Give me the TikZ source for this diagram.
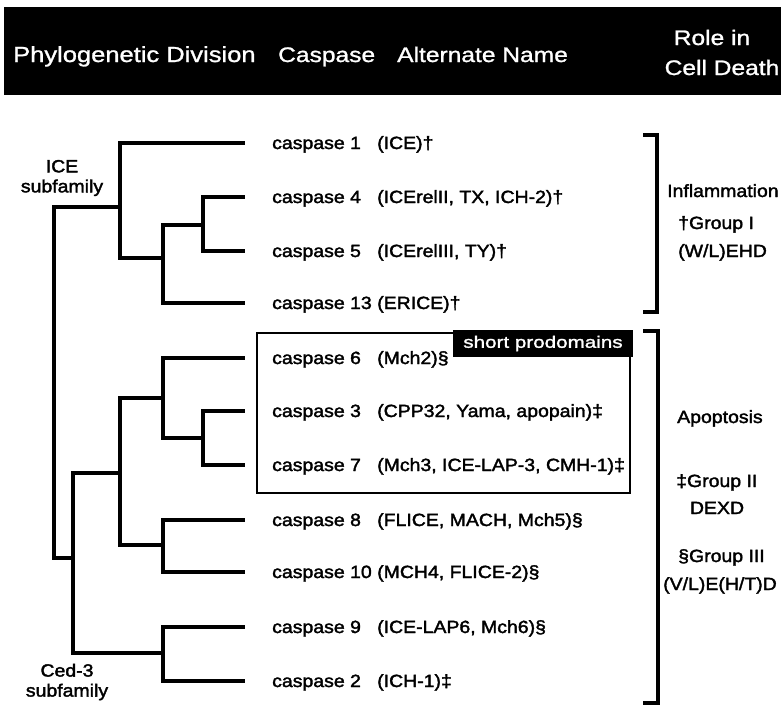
\documentclass[tikz,border=0pt]{standalone}
\usepackage{fontspec}
\setmainfont{Liberation Sans}[FakeStretch=1.1,FakeBold=2]
\newfontfamily\hdrfont{Liberation Sans}[FakeStretch=1.17,FakeBold=1.2]
\newfontfamily\spfont{Liberation Sans}[FakeStretch=1.25,FakeBold=1.5]
\newcommand{\bodysize}{\fontsize{17.7}{20}\selectfont}
\begin{document}
\begin{tikzpicture}[x=1pt,y=-1pt,
  branch/.style={line width=4pt,line join=miter,line cap=rect},
  leafname/.style={anchor=base west,inner sep=0pt,font=\bodysize},
  altname/.style={anchor=base west,inner sep=0pt,font=\bodysize},
  rolelabel/.style={anchor=base west,inner sep=0pt,font=\bodysize},
  hdr/.style={anchor=base west,inner sep=0pt,text=white,font=\hdrfont\fontsize{21}{24}\selectfont},
  famlabel/.style={align=center,inner sep=0pt,font=\bodysize},
  brack/.style={line width=4.5pt,line join=miter}]
\useasboundingbox (0,0) rectangle (781,704);
% header band
\fill[black] (4,7) rectangle (781,95);
\node[hdr,font=\hdrfont\fontsize{21.8}{24}\selectfont] (h1) at (13,62) {Phylogenetic Division};
\node[hdr] (h2) at (278,62) {Caspase};
\node[hdr] (h3) at (397,62) {Alternate Name};
\node[hdr,anchor=base] (h4) at (712,45) {Role in};
\node[hdr,anchor=base] (h5) at (722,75) {Cell Death};
% leaf coordinates
\coordinate (L1) at (243,143);
\coordinate (L4) at (243,197);
\coordinate (L5) at (243,251);
\coordinate (L13) at (243,303);
\coordinate (L6) at (243,358);
\coordinate (L3) at (243,411);
\coordinate (L7) at (243,465);
\coordinate (L8) at (243,520);
\coordinate (L10) at (243,572);
\coordinate (L9) at (243,627);
\coordinate (L2) at (243,681);
% internal nodes
\coordinate (a45) at (203,225);
\coordinate (a4513) at (163,258);
\coordinate (aICE) at (120,207);
\coordinate (root) at (54,380);
\coordinate (aCed) at (73,558);
\coordinate (aA) at (120,473);
\coordinate (a637) at (163,398);
\coordinate (a37) at (203,438);
\coordinate (a810) at (163,545);
\coordinate (a92) at (163,653);
% tree
\draw[branch] (L4) -| (a45) |- (L5);
\draw[branch] (a45) -| (a4513) |- (L13);
\draw[branch] (L1) -| (aICE) |- (a4513);
\draw[branch] (aICE) -| (root) |- (aCed);
\draw[branch] (L3) -| (a37) |- (L7);
\draw[branch] (L6) -| (a637) |- (a37);
\draw[branch] (L8) -| (a810) |- (L10);
\draw[branch] (a637) -| (aA) |- (a810);
\draw[branch] (L9) -| (a92) |- (L2);
\draw[branch] (aA) -| (aCed) |- (a92);
% family labels
\node[famlabel] (ice) at (62,178) {ICE\\subfamily};
\node[famlabel] (ced) at (67,682) {Ced-3\\subfamily};
% short prodomains box
\draw[line width=2pt] (257,333) rectangle (630,493);
\node[fill=black,text=white,minimum width=180pt,minimum height=27pt,inner sep=0pt,font=\spfont\fontsize{16.5}{18}\selectfont] (sp) at (543,343.5) {short prodomains};
% leaf names
\node[leafname] (c1) at (272,149) {caspase 1};
\node[altname] (n1) at (377,149) {(ICE)†};
\node[leafname] (c4) at (272,203) {caspase 4};
\node[altname] (n4) at (377,203) {(ICErelII, TX, ICH-2)†};
\node[leafname] (c5) at (272,257) {caspase 5};
\node[altname] (n5) at (377,257) {(ICErelIII, TY)†};
\node[leafname] (c13) at (272,309) {caspase 13};
\node[altname] (n13) at (377,309) {(ERICE)†};
\node[leafname] (c6) at (272,364) {caspase 6};
\node[altname] (n6) at (377,364) {(Mch2)§};
\node[leafname] (c3) at (272,417) {caspase 3};
\node[altname] (n3) at (377,417) {(CPP32, Yama, apopain)‡};
\node[leafname] (c7) at (272,471) {caspase 7};
\node[altname] (n7) at (377,471) {(Mch3, ICE-LAP-3, CMH-1)‡};
\node[leafname] (c8) at (272,526) {caspase 8};
\node[altname] (n8) at (377,526) {(FLICE, MACH, Mch5)§};
\node[leafname] (c10) at (272,578) {caspase 10};
\node[altname] (n10) at (377,578) {(MCH4, FLICE-2)§};
\node[leafname] (c9) at (272,633) {caspase 9};
\node[altname] (n9) at (377,633) {(ICE-LAP6, Mch6)§};
\node[leafname] (c2) at (272,687) {caspase 2};
\node[altname] (n2) at (377,687) {(ICH-1)‡};
% brackets
\draw[brack] (643,135) -- (657,135) -- (657,312) -- (643,312);
\draw[brack] (643,331) -- (658,331) -- (658,703) -- (643,703);
% roles
\node[rolelabel] (r1) at (667,197) {Inflammation};
\node[rolelabel] (r2) at (678,229) {†Group I};
\node[rolelabel] (r3) at (678,257) {(W/L)EHD};
\node[rolelabel] (r4) at (677,423) {Apoptosis};
\node[rolelabel] (r5) at (676,487) {‡Group II};
\node[rolelabel,anchor=base] (r6) at (717,514) {DEXD};
\node[rolelabel] (r7) at (678,562) {§Group III};
\node[rolelabel] (r8) at (663,590) {(V/L)E(H/T)D};
\end{tikzpicture}
\end{document}
